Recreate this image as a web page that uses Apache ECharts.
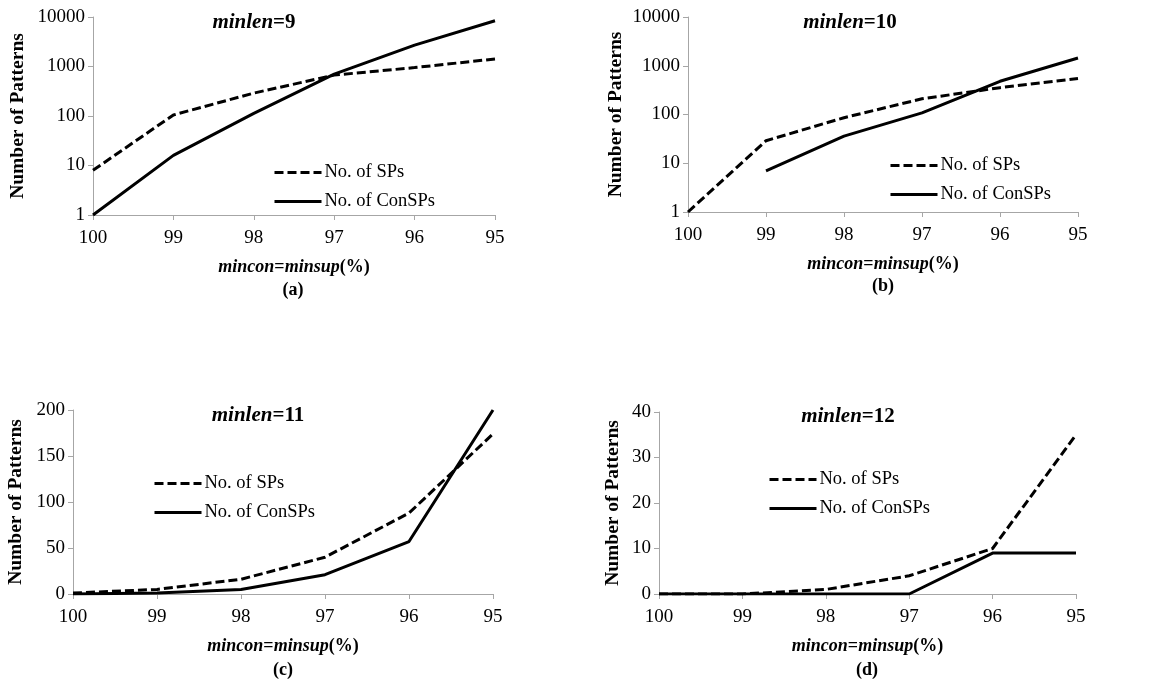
<!DOCTYPE html>
<html>
<head>
<meta charset="utf-8">
<script src="https://cdn.jsdelivr.net/npm/echarts@6/dist/echarts.min.js"></script>
<style>
  html, body { margin: 0; padding: 0; background: #fff; }
  #main { width: 1149px; height: 681px; }
</style>
</head>
<body>
<div id="main"></div>
<script>
  // x categories: mincon = minsup (%)
  var supports = ['100', '99', '98', '97', '96', '95'];

  // (a) minlen=9, log scale
  var spsA    = [8, 105, 290, 670, 950, 1420];
  var conspsA = [1, 16, 113, 700, 2700, 8400];
  // (b) minlen=10, log scale (no ConSP at 100)
  var spsB    = [1, 29, 86, 210, 355, 545];
  var conspsB = ['-', 7, 36, 108, 480, 1440];
  // (c) minlen=11
  var spsC    = [1, 5, 16, 40, 88, 174];
  var conspsC = [0, 1, 5, 21, 57, 200];
  // (d) minlen=12
  var spsD    = [0, 0, 1, 4, 10, 35];
  var conspsD = [0, 0, 0, 0, 9, 9];

  var panelNames = ['9', '10', '11', '12'];
  var panelTags = ['(a)', '(b)', '(c)', '(d)'];

  var FONT = '"Liberation Serif", "Times New Roman", serif';
  var AXIS_GREY = '#a6a6a6';

  var grids = [
    { left: 93,  top: 17,  width: 402, height: 198 },
    { left: 688, top: 17,  width: 390, height: 195 },
    { left: 73,  top: 410, width: 420, height: 184 },
    { left: 659, top: 412, width: 417, height: 182 }
  ];
  var yNameGap = [65, 62, 47, 36];
  var titlePos = [[254, 23], [850, 23], [258, 416], [848, 417]];
  var tagPos = [[293, 290], [883, 286], [283, 670], [867, 670]];
  var legendPos = [[273, 163], [889, 156], [153, 474], [768, 470]];

  var myChart = echarts.init(document.getElementById('main'));

  var xAxes = [], yAxes = [], series = [], titles = [], legends = [];
  var spsAll = [spsA, spsB, spsC, spsD];
  var conAll = [conspsA, conspsB, conspsC, conspsD];

  for (var i = 0; i < 4; i++) {
    xAxes.push({
      type: 'category',
      gridIndex: i,
      data: supports,
      boundaryGap: false,
      name: '{i|mincon}{b|=}{i|minsup}{b|(%)}',
      nameLocation: 'middle',
      nameGap: 43,
      nameTextStyle: {
        rich: {
          i: { fontFamily: FONT, fontSize: 18, fontWeight: 'bold', fontStyle: 'italic', color: '#000' },
          b: { fontFamily: FONT, fontSize: 18, fontWeight: 'bold', color: '#000' }
        }
      },
      axisLine: { lineStyle: { color: AXIS_GREY, width: 1 } },
      axisTick: { show: true, length: 5, alignWithLabel: true, lineStyle: { color: AXIS_GREY } },
      axisLabel: { fontFamily: FONT, fontSize: 19, color: '#000', margin: 14 },
      splitLine: { show: false }
    });

    var y = {
      gridIndex: i,
      name: 'Number of Patterns',
      nameLocation: 'middle',
      nameGap: yNameGap[i],
      nameTextStyle: { fontFamily: FONT, fontSize: 19.5, fontWeight: 'bold', color: '#000' },
      axisLine: { show: true, lineStyle: { color: AXIS_GREY, width: 1 } },
      axisTick: { show: true, length: 5, lineStyle: { color: AXIS_GREY } },
      axisLabel: {
        fontFamily: FONT, fontSize: 19, color: '#000', margin: 8,
        formatter: function (v) { return String(v); }
      },
      splitLine: { show: false }
    };
    if (i < 2) {
      y.type = 'log';
      y.logBase = 10;
      y.min = 1;
      y.max = 10000;
    } else {
      y.type = 'value';
      y.min = 0;
      y.max = i === 2 ? 200 : 40;
      y.interval = i === 2 ? 50 : 10;
    }
    yAxes.push(y);

    series.push({
      name: 'No. of SPs',
      type: 'line',
      xAxisIndex: i, yAxisIndex: i,
      data: spsAll[i],
      symbol: 'none',
      lineStyle: { color: '#000', width: 3, type: [9, 4] },
      itemStyle: { color: '#000' }
    });
    series.push({
      name: 'No. of ConSPs',
      type: 'line',
      xAxisIndex: i, yAxisIndex: i,
      data: conAll[i],
      symbol: 'none',
      connectNulls: false,
      lineStyle: { color: '#000', width: 3, type: 'solid' },
      itemStyle: { color: '#000' }
    });

    titles.push({
      text: '{i|minlen}{b|=' + panelNames[i] + '}',
      left: titlePos[i][0], top: titlePos[i][1],
      textAlign: 'center', textVerticalAlign: 'middle',
      textStyle: {
        rich: {
          i: { fontFamily: FONT, fontSize: 21, fontWeight: 'bold', fontStyle: 'italic', color: '#000' },
          b: { fontFamily: FONT, fontSize: 21, fontWeight: 'bold', color: '#000' }
        }
      },
      padding: 0
    });
    titles.push({
      text: panelTags[i],
      left: tagPos[i][0], top: tagPos[i][1],
      textAlign: 'center', textVerticalAlign: 'middle',
      textStyle: { fontFamily: FONT, fontSize: 18, fontWeight: 'bold', color: '#000' },
      padding: 0
    });

    legends.push({
      orient: 'vertical',
      left: legendPos[i][0], top: legendPos[i][1],
      padding: 0,
      itemWidth: 47, itemHeight: 18, itemGap: 10,
      data: ['No. of SPs', 'No. of ConSPs'],
      itemStyle: { opacity: 0 },
      lineStyle: { width: 3 },
      textStyle: { fontFamily: FONT, fontSize: 18.5, color: '#000', padding: [0, 0, 0, -2] },
      selectedMode: false
    });
  }

  var option = {
    animation: false,
    backgroundColor: '#fff',
    title: titles,
    legend: legends,
    grid: grids,
    xAxis: xAxes,
    yAxis: yAxes,
    series: series
  };
  myChart.setOption(option);
</script>
</body>
</html>
